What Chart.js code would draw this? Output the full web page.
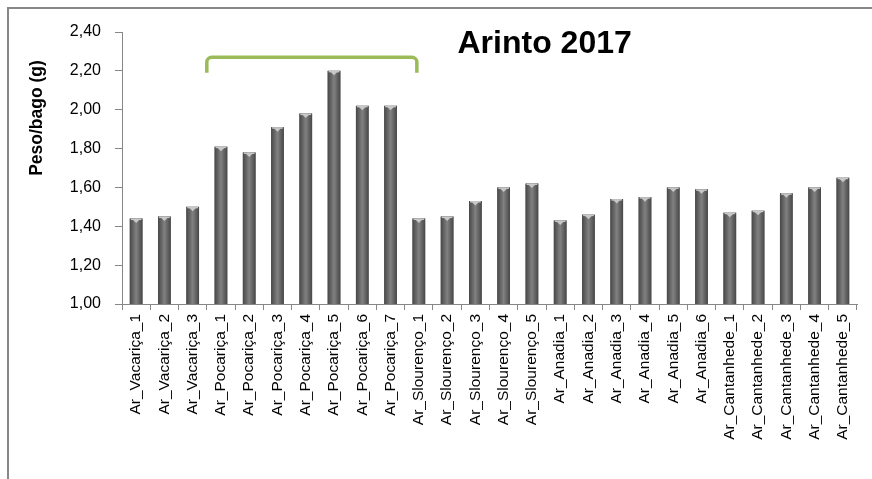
<!DOCTYPE html>
<html>
<head>
<meta charset="utf-8">
<script src="https://cdn.jsdelivr.net/npm/chart.js@4.4.1/dist/chart.umd.min.js"></script>
<style>
body{margin:0;background:#fff;overflow:hidden}
#moldura{position:absolute;left:7px;top:7px;width:900px;height:520px;border:2px solid #878787}
#grafico{position:absolute;left:0;top:0}
</style>
</head>
<body>
<div id="moldura"></div>
<canvas id="grafico" width="872" height="479"></canvas>
<script>
const amostras=["Ar_Vacariça_1","Ar_Vacariça_2","Ar_Vacariça_3",
"Ar_Pocariça_1","Ar_Pocariça_2","Ar_Pocariça_3","Ar_Pocariça_4","Ar_Pocariça_5","Ar_Pocariça_6","Ar_Pocariça_7",
"Ar_Slourenço_1","Ar_Slourenço_2","Ar_Slourenço_3","Ar_Slourenço_4","Ar_Slourenço_5",
"Ar_Anadia_1","Ar_Anadia_2","Ar_Anadia_3","Ar_Anadia_4","Ar_Anadia_5","Ar_Anadia_6",
"Ar_Cantanhede_1","Ar_Cantanhede_2","Ar_Cantanhede_3","Ar_Cantanhede_4","Ar_Cantanhede_5"]

const pesoBago=[1.44,1.45,1.50,
1.81,1.78,1.91,1.98,2.20,2.02,2.02,
1.44,1.45,1.53,1.60,1.62,
1.43,1.46,1.54,1.55,1.60,1.59,
1.47,1.48,1.57,1.60,1.65]

const yMin=1
const yMax=2.4
const yPasso=0.2

const titulo="Arinto 2017"
const tituloY="Peso/bago (g)"

// chaveta verde por cima das amostras de Pocariça
const chavetaDe=2.5
const chavetaAte=9.93
const chavetaTopo=2.27
const chavetaPe=2.19

const fonte="'Liberation Sans', Arial, sans-serif"
const cinza="#878787"

const extras={
id:"extras",
afterDatasetsDraw(chart){
const ctx=chart.ctx
const a=chart.chartArea
const meta=chart.getDatasetMeta(0)

// barras com efeito cilindrico e tampa clara (a base fica no eixo, 1,00)
meta.data.forEach(b=>{
const {x,y,base,width}=b.getProps(["x","y","base","width"],true)
const fundo=Math.min(base,a.bottom)
const l=x-width/2
const g=ctx.createLinearGradient(l,0,l+width,0)
g.addColorStop(0,"#474747")
g.addColorStop(0.5,"#818181")
g.addColorStop(1,"#474747")
ctx.save()
ctx.fillStyle=g
ctx.fillRect(l,y,width,fundo-y)
ctx.fillStyle="#c8c8c8"
ctx.fillRect(l+1,y,width-2,1.5)
ctx.beginPath()
ctx.moveTo(x-3.5,y+1)
ctx.lineTo(x+3.5,y+1)
ctx.lineTo(x,y+4.5)
ctx.closePath()
ctx.fill()
ctx.restore()
})

const xs=chart.scales.x
const ys=chart.scales.y
const x1=xs.getPixelForValue(chavetaDe)
const x2=xs.getPixelForValue(chavetaAte)
const yt=ys.getPixelForValue(chavetaTopo)
const yp=ys.getPixelForValue(chavetaPe)

ctx.save()
ctx.strokeStyle="#9bbb59"
ctx.lineWidth=3.5
ctx.beginPath()
ctx.moveTo(x1,yp)
ctx.arcTo(x1,yt,x2,yt,5)
ctx.arcTo(x2,yt,x2,yp,5)
ctx.lineTo(x2,yp)
ctx.stroke()
ctx.restore()
},
afterDraw(chart){
const ctx=chart.ctx
const a=chart.chartArea

ctx.save()
ctx.fillStyle="#000"
ctx.font="bold 32px "+fonte
ctx.textAlign="center"
ctx.textBaseline="alphabetic"
ctx.fillText(titulo,a.left+0.575*(a.right-a.left),a.top+21)

ctx.translate(37,a.top+86)
ctx.rotate(-Math.PI/2)
ctx.font="bold 17.5px "+fonte
ctx.textBaseline="middle"
ctx.fillText(tituloY,0,0)
ctx.restore()
}
}

new Chart(document.getElementById("grafico"),{
type:"bar",
data:{
labels:amostras,
datasets:[{
label:tituloY,
data:pesoBago,
backgroundColor:"#666",
categoryPercentage:1,
barPercentage:0.45
}]
},
options:{
responsive:false,
animation:false,
layout:{padding:{left:22,top:32,right:15,bottom:0}},
plugins:{legend:{display:false},tooltip:{enabled:false}},
scales:{
x:{
grid:{display:true,drawOnChartArea:false,offset:true,tickLength:6,color:cinza},
border:{color:cinza},
ticks:{autoSkip:false,minRotation:90,maxRotation:90,padding:4,color:"#000",font:{family:fonte,size:15.5}},
afterFit:s=>{s.height=175}
},
y:{
min:yMin,
max:yMax,
grid:{drawOnChartArea:false,tickLength:7,color:cinza},
border:{color:cinza},
ticks:{stepSize:yPasso,padding:14,color:"#000",font:{family:fonte,size:16},
callback:v=>v.toFixed(2).replace(".",",")},
afterFit:s=>{s.width=100}
}
}
},
plugins:[extras]
})
</script>
</body>
</html>
